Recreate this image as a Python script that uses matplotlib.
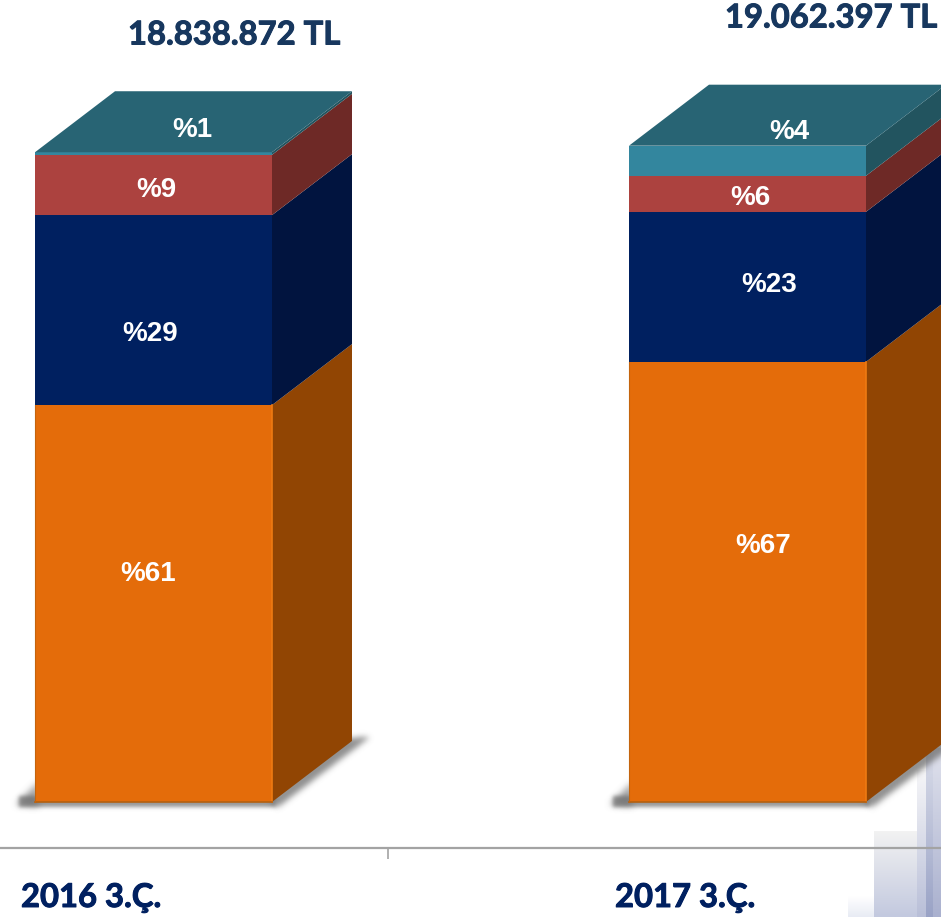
import numpy as np
import matplotlib
matplotlib.use("Agg")
import matplotlib.pyplot as plt
import matplotlib.patheffects as pe
from matplotlib.patches import Polygon
from matplotlib.path import Path
from matplotlib.colors import LinearSegmentedColormap, to_rgba

# --- data, heights (share of the stack) ---
periods = ["2016 3.Ç.", "2017 3.Ç."]
totals = ["18.838.872 TL", "19.062.397 TL"]
orange_vals = [60.6, 67.2]
navy_vals = [29.0, 22.9]
red_vals = [9.2, 5.5]
teal_vals = [0.4, 4.6]
orange_labels = ["%61", "%67"]
navy_labels = ["%29", "%23"]
red_labels = ["%9", "%6"]
teal_labels = ["%1", "%4"]

W, H = 941, 917
PX_X = 594.0   # px per category step
PX_Y = 6.55    # px per percent
BASE_PX = 802
X0_PX = 153.5
DEPTH_X = 80 / PX_X
DEPTH_Y = 61 / PX_Y
BAR_W = 237 / PX_X

front = ["#e46c0a", "#002060", "#ac423f", "#33869e"]
side = ["#914503", "#01143f", "#6e2926", "#22545f"]
top_col = "#286474"
navy_text = "#002060"
title_col = "#17375e"

fig = plt.figure(figsize=(W / 100, H / 100), dpi=100, facecolor="white")

# pixel overlay for decoration and texts
bg = fig.add_axes([0, 0, 1, 1], zorder=0)
bg.axis("off")

ax = fig.add_axes([0, 0, 1, 1], zorder=1)
ax.set_xlim(-X0_PX / PX_X, (W - X0_PX) / PX_X)
ax.set_ylim(-(H - BASE_PX) / PX_Y, BASE_PX / PX_Y)
ax.axis("off")
ax.patch.set_alpha(0)

txt = fig.add_axes([0, 0, 1, 1], zorder=2)
txt.set_xlim(0, W)
txt.set_ylim(H, 0)
txt.axis("off")
txt.patch.set_alpha(0)


# --- Background strips at the lower right corner ---
def strip(x0, x1, y0, y1, c0, c1):
    cm = LinearSegmentedColormap.from_list("s", [c0, c1])
    g = np.linspace(0, 1, 64).reshape(-1, 1)
    bg.imshow(g, cmap=cm, extent=[x0, x1, y1, y0], aspect="auto", vmin=0, vmax=1, interpolation="bilinear")


strip(848, 874, 896, 917, "#ffffff", "#e8ebf4")
strip(874, 917, 831, 917, "#f2f2f2", "#c3c9df")
strip(917, 926, 770, 917, "#f6f6f8", "#b9bfd8")
strip(926, 933, 752, 917, "#d8dbe8", "#9aa3c6")
strip(933, 941, 748, 917, "#dfe1ec", "#aab1cf")


# --- Soft shadows under the boxes ---
def soft_shadow(pts, sigma=3.0, strength=0.7):
    xs = [p[0] for p in pts]
    ys = [p[1] for p in pts]
    x0, x1 = int(min(xs)) - 15, int(max(xs)) + 15
    y0, y1 = int(min(ys)) - 15, int(max(ys)) + 15
    xx, yy = np.meshgrid(np.arange(x0, x1) + 0.5, np.arange(y0, y1) + 0.5)
    grid = np.column_stack([xx.ravel(), yy.ravel()])
    mask = Path(pts).contains_points(grid).reshape(xx.shape).astype(float)
    k = np.exp(-0.5 * (np.arange(-10, 11) / sigma) ** 2)
    k /= k.sum()
    mask = np.apply_along_axis(lambda r: np.convolve(r, k, mode="same"), 0, mask)
    mask = np.apply_along_axis(lambda r: np.convolve(r, k, mode="same"), 1, mask)
    rgba = np.zeros(mask.shape + (4,))
    rgba[..., :3] = to_rgba("#6a6a6a")[:3]
    rgba[..., 3] = mask * strength
    bg.imshow(rgba, extent=[x0, x1, y1, y0], aspect="auto", interpolation="bilinear")


for x_left in [35, 629]:
    x_right = x_left + 237
    # left wedge
    soft_shadow([(x_left - 20, 805), (x_left + 4, 782), (x_left + 4, 806)], sigma=3.5, strength=0.65)
    # rim below the front face
    soft_shadow([(x_left - 16, 796), (x_right + 4, 796), (x_right + 4, 807), (x_left - 16, 807)], sigma=2.0, strength=0.7)
    # diagonal behind the side face
    soft_shadow([(x_right - 4, 800), (x_right + 72, 738), (x_right + 98, 737), (x_right + 6, 807)], sigma=3.0, strength=0.75)

bg.set_xlim(0, W)
bg.set_ylim(H, 0)

# --- Axis line and tick ---
bg.plot([0, W], [848, 848], color="#a3a3a3", lw=1.6, solid_capstyle="butt")
bg.plot([388, 388], [848, 859], color="#a3a3a3", lw=1.2, solid_capstyle="butt")

# --- Boxes ---
series = [orange_vals, navy_vals, red_vals, teal_vals]
x_pos = np.arange(len(periods))
bottoms = np.zeros(len(periods))
for k, vals in enumerate(series):
    vals = np.array(vals)
    ax.bar(x_pos, vals, width=BAR_W, bottom=bottoms, color=front[k], linewidth=0, zorder=3)
    for i, x in enumerate(x_pos):
        xr = x + BAR_W / 2
        y0, y1 = bottoms[i], bottoms[i] + vals[i]
        ax.add_patch(Polygon([(xr, y0), (xr + DEPTH_X, y0 + DEPTH_Y),
                              (xr + DEPTH_X, y1 + DEPTH_Y), (xr, y1)],
                             closed=True, facecolor=side[k], edgecolor="none", zorder=2))
    bottoms = bottoms + vals

for i, x in enumerate(x_pos):
    xl, xr = x - BAR_W / 2, x + BAR_W / 2
    y = bottoms[i]
    ax.add_patch(Polygon([(xl, y), (xr, y), (xr + DEPTH_X, y + DEPTH_Y), (xl + DEPTH_X, y + DEPTH_Y)],
                         closed=True, facecolor=top_col, edgecolor="none", zorder=3))
    # edges of the orange block
    ax.plot([xr, xr], [0, orange_vals[i]], color="#ee7a12", lw=1.2, zorder=4)
    ax.plot([xl, xr], [0, 0], color="#b5600f", lw=1.2, zorder=4)
    ax.plot([xl, xl], [0, orange_vals[i]], color="#c4640d", lw=0.8, zorder=4)

# --- Texts ---
lab_font = dict(family="Liberation Sans", weight="bold", color="white", fontsize=20,
                ha="center", va="center")
cal_font = dict(family="Lato", weight="bold")

label_xy = {
    0: [(148, 574), (150, 334), (156, 190), (192, 130)],
    1: [(763, 546), (769, 285), (750, 198), (789, 132)],
}
for i in range(2):
    texts = [orange_labels[i], navy_labels[i], red_labels[i], teal_labels[i]]
    for s, (lx, ly) in zip(texts, label_xy[i]):
        txt.text(lx, ly, s, **lab_font)

heavy = lambda c: [pe.withStroke(linewidth=0.7, foreground=c)]
for s, x, y in [(totals[0], 234, 35), (totals[1], 831, 18)]:
    txt.text(x, y, s, color=title_col, fontsize=23.6, ha="center", va="center",
             path_effects=heavy(title_col), **cal_font)
for s, x in [(periods[0], 21), (periods[1], 615)]:
    txt.text(x, 907, s, color=navy_text, fontsize=23.6, ha="left", va="baseline",
             path_effects=heavy(navy_text), **cal_font)

fig.savefig("out.png", dpi=100)
